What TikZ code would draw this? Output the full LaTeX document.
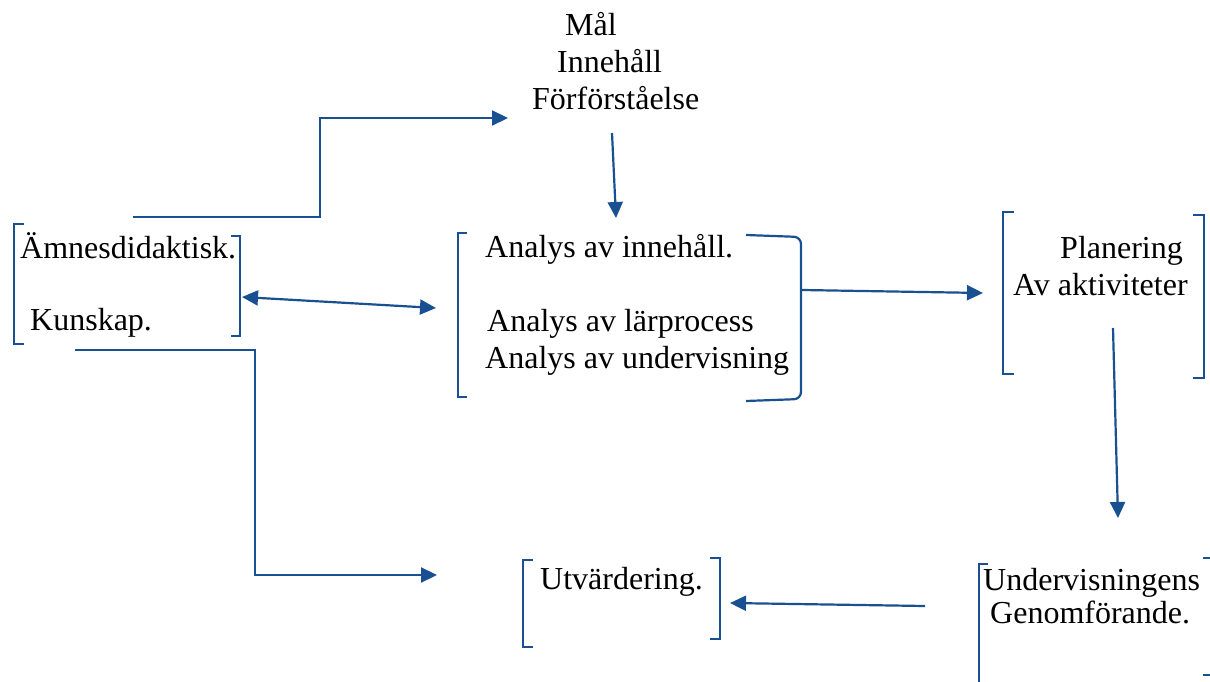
\documentclass[tikz,border=0pt]{standalone}
\usepackage{fontspec}
\setmainfont{Liberation Serif}
\newfontfamily\tms{Liberation Serif}
\usetikzlibrary{arrows.meta}
\definecolor{lineblue}{RGB}{24,80,145}
\begin{document}
\begin{tikzpicture}[x=1pt,y=-1pt,
  conn/.style={draw=lineblue,line width=2.2pt},
  arr/.style={conn,-{Triangle[length=16pt,width=15pt]}},
  darr/.style={conn,{Triangle[length=16pt,width=15pt]}-{Triangle[length=16pt,width=15pt]}},
  brk/.style={draw=lineblue,line width=2.2pt},
  txt/.style={inner sep=0pt,anchor=base west,font=\tms\fontsize{32}{37}\selectfont}]
\useasboundingbox (0,0) rectangle (1210,682);
\clip (0,0) rectangle (1210,682);

% texts
\node[txt] (mal) at (565,36) {Mål};
\node[txt] (inne) at (557,73) {Innehåll};
\node[txt] (forf) at (532,110) {Förförståelse};
\node[txt] (amne) at (20,258) {Ämnesdidaktisk.};
\node[txt] (kuns) at (30,330) {Kunskap.};
\node[txt] (an1) at (485,257) {Analys av innehåll.};
\node[txt] (an2) at (487,331) {Analys av lärprocess};
\node[txt] (an3) at (485,368) {Analys av undervisning};
\node[txt] (plan) at (1060,258) {Planering};
\node[txt] (akt) at (1013,295) {Av aktiviteter};
\node[txt] (utv) at (540,589) {Utvärdering.};
\node[txt] (und) at (983,590) {Undervisningens};
\node[txt] (gen) at (990,623) {Genomförande.};

% brackets
\draw[brk] (24,224)--(14,224)--(14,344)--(24,344);
\draw[brk] (231,236)--(240,236)--(240,336)--(231,336);
\draw[brk] (467,233)--(458,233)--(458,397)--(467,397);
\draw[brk,rounded corners=7pt] (746,235)--(801,237)--(801,399)--(746,401);
\draw[brk] (1014,212)--(1003,212)--(1003,374)--(1014,374);
\draw[brk] (1193,215)--(1204,215)--(1204,378)--(1193,378);
\draw[brk] (533,560)--(523,560)--(523,647)--(533,647);
\draw[brk] (710,558)--(720,558)--(720,639)--(710,639);
\draw[brk] (988,564)--(979,564)--(979,690);
\draw[brk] (1203,558)--(1213,558)--(1213,675)--(1203,675);

% connector end points
\coordinate (a1s) at (133,217);
\coordinate (a1e) at (508,118);
\coordinate (a2s) at (612,133);
\coordinate (a2e) at (616,218);
\coordinate (a3s) at (242,297);
\coordinate (a3e) at (436,308);
\coordinate (a4s) at (75,350);
\coordinate (a4e) at (437,575);
\coordinate (a5s) at (802,290);
\coordinate (a5e) at (983,293);
\coordinate (a6s) at (1113,328);
\coordinate (a6e) at (1118,518);
\coordinate (a7s) at (925,606);
\coordinate (a7e) at (730,603);

% connectors
\draw[arr] (a1s) -- (320,217) -- (320,118) -- (a1e);
\draw[arr] (a2s) -- (a2e);
\draw[darr] (a3s) -- (a3e);
\draw[arr] (a4s) -- (255,350) -- (255,575) -- (a4e);
\draw[arr] (a5s) -- (a5e);
\draw[arr] (a6s) -- (a6e);
\draw[arr] (a7s) -- (a7e);
\end{tikzpicture}
\end{document}
